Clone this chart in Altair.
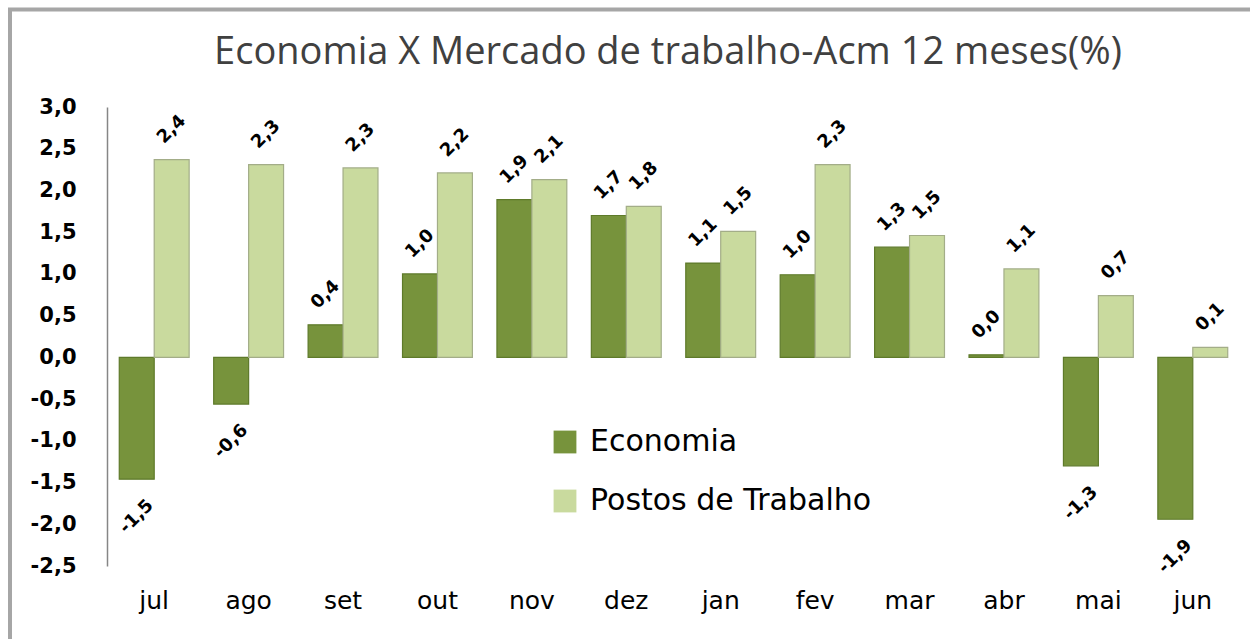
import altair as alt
import pandas as pd

titulo = "Economia X Mercado de trabalho-Acm 12 meses(%)"
meses = ["jul", "ago", "set", "out", "nov", "dez", "jan", "fev", "mar", "abr", "mai", "jun"]
economia = [-1.46, -0.56, 0.39, 1.00, 1.89, 1.70, 1.13, 0.99, 1.32, 0.03, -1.30, -1.94]
postos = [2.37, 2.31, 2.27, 2.21, 2.13, 1.81, 1.51, 2.31, 1.46, 1.06, 0.74, 0.12]
series = ["Economia", "Postos de Trabalho"]
y_ticks = [-2.5, -2.0, -1.5, -1.0, -0.5, 0.0, 0.5, 1.0, 1.5, 2.0, 2.5, 3.0]

rows = []
for i, m in enumerate(meses):
    rows.append({"mes": m, "serie": series[0], "valor": economia[i]})
    rows.append({"mes": m, "serie": series[1], "valor": postos[i]})
df = pd.DataFrame(rows)

W, H = 1133, 459

fmt_axis = "(datum.value < -0.001 ? '-' : '') + replace(format(abs(datum.value), '.1f'), '.', ',')"

x_enc = alt.X("mes:N", sort=meses, title=None,
              scale=alt.Scale(paddingInner=0.26, paddingOuter=0.13),
              axis=alt.Axis(domain=False, ticks=False, labelAngle=0, labelFont="DejaVu Sans",
                            labelFontSize=25, labelColor="#000000", labelPadding=22))
xoff = alt.XOffset("serie:N", sort=series, scale=alt.Scale(paddingInner=0, paddingOuter=0))
y_scale = alt.Scale(domain=[-2.5, 3.0], nice=False, zero=False)

base = alt.Chart(df)

bars = base.mark_bar(strokeWidth=1.2).encode(
    x=x_enc,
    xOffset=xoff,
    y=alt.Y("valor:Q", scale=y_scale, title=None,
            axis=alt.Axis(values=y_ticks, labelExpr=fmt_axis,
                          grid=False, ticks=False, domain=True, domainColor="#868686", domainWidth=1.5,
                          labelFont="DejaVu Sans", labelFontSize=21, labelFontWeight="bold",
                          labelColor="#000000", labelPadding=31)),
    y2=alt.datum(0),
    color=alt.Color("serie:N", sort=series, title=None,
                    scale=alt.Scale(domain=series, range=["#77933C", "#C9DA9E"]),
                    legend=alt.Legend(orient="none", legendX=443, legendY=320, direction="vertical",
                                      symbolType="square", symbolSize=520, symbolStrokeWidth=0,
                                      labelFont="DejaVu Sans", labelFontSize=30, labelColor="#000000",
                                      labelOffset=10, rowPadding=29, padding=0, labelLimit=0)),
    stroke=alt.Stroke("serie:N", sort=series, legend=None,
                      scale=alt.Scale(domain=series, range=["#5E7A2A", "#A3AD88"])),
)

labels = base.transform_calculate(
    ly="datum.valor + (datum.valor >= 0 ? 0.36 : -0.45)",
    txt="(datum.valor < -0.001 ? '-' : '') + replace(format(abs(datum.valor), '.1f'), '.', ',')",
).mark_text(angle=315, align="center", baseline="middle", font="DejaVu Sans",
            fontSize=18, fontWeight="bold", color="#000000").encode(
    x=alt.X("mes:N", sort=meses),
    xOffset=xoff,
    y=alt.Y("ly:Q", scale=y_scale),
    text="txt:N",
)

title_mark = alt.Chart(pd.DataFrame({"t": [titulo]})).mark_text(
    font="Open Sans", fontSize=38, color="#404040", align="center", baseline="alphabetic"
).encode(text="t:N", x=alt.value(561), y=alt.value(-43))

border = alt.Chart(pd.DataFrame({"b": [0]})).mark_rect(
    fill=None, stroke="#A6A6A6", strokeWidth=4
).encode(x=alt.value(-97), x2=alt.value(3000), y=alt.value(-97.5), y2=alt.value(3000))

chart = alt.layer(bars, labels, title_mark, border).properties(
    width=W, height=H,
    autosize=alt.AutoSizeParams(type="none"),
    padding={"left": 107, "top": 107, "right": 10, "bottom": 73},
    background="#FFFFFF",
).configure_view(stroke=None)

chart.save("out.html", embed_options={"renderer": "svg", "actions": False})
